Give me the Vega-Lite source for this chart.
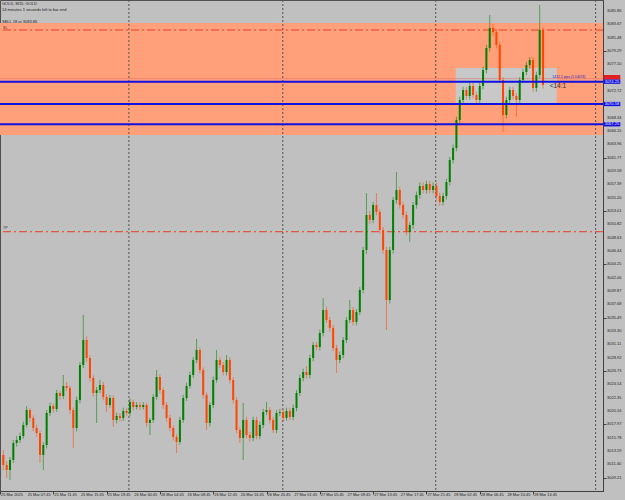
{
"$schema":"https://vega.github.io/schema/vega-lite/v6.json",
"width":603,"height":491,
"autosize":{"type":"none"},
"padding":{"left":0,"top":0,"right":22,"bottom":9},
"background":"#C0C0C0",
"config":{"view":{"stroke":"#505050","fill":"#C0C0C0"},"font":"Liberation Sans"},
"datasets":{
"xlabels":[
{"i":0.3,"t":"25 Mar 2025"},{"i":8.3,"t":"25 Mar 07:45"},{"i":16.3,"t":"25 Mar 11:45"},{"i":24.3,"t":"25 Mar 15:45"},{"i":32.3,"t":"25 Mar 19:45"},{"i":40.3,"t":"26 Mar 00:45"},{"i":48.3,"t":"26 Mar 04:45"},{"i":56.3,"t":"26 Mar 08:45"},{"i":64.3,"t":"26 Mar 12:45"},{"i":72.3,"t":"26 Mar 16:45"},{"i":80.3,"t":"26 Mar 20:45"},{"i":88.3,"t":"27 Mar 01:45"},{"i":96.3,"t":"27 Mar 05:45"},{"i":104.3,"t":"27 Mar 09:45"},{"i":112.3,"t":"27 Mar 13:45"},{"i":120.3,"t":"27 Mar 17:45"},{"i":128.3,"t":"27 Mar 21:45"},{"i":136.3,"t":"28 Mar 02:45"},{"i":144.3,"t":"28 Mar 06:45"},{"i":152.3,"t":"28 Mar 10:45"},{"i":160.3,"t":"28 Mar 14:45"}
],
"ylabels":[
{"p":3009.21},{"p":3011.40},{"p":3013.59},{"p":3015.78},{"p":3017.97},{"p":3020.16},{"p":3022.35},{"p":3024.54},{"p":3026.73},{"p":3028.92},{"p":3031.11},{"p":3033.30},{"p":3035.49},{"p":3037.68},{"p":3039.87},{"p":3042.06},{"p":3044.25},{"p":3046.44},{"p":3048.63},{"p":3050.82},{"p":3053.01},{"p":3055.20},{"p":3057.39},{"p":3059.58},{"p":3061.77},{"p":3063.96},{"p":3066.15},{"p":3068.34},{"p":3072.72},{"p":3077.10},{"p":3079.29},{"p":3081.48},{"p":3083.67},{"p":3085.86}
],
"candles":[
{"i":1,"o":3012.92,"h":3013.74,"l":3010.45,"c":3011.28},
{"i":2,"o":3011.28,"h":3011.9,"l":3009.14,"c":3010.45},
{"i":3,"o":3010.45,"h":3012.6,"l":3008.81,"c":3012.10},
{"i":4,"o":3012.10,"h":3015.4,"l":3011.6,"c":3014.89},
{"i":5,"o":3014.89,"h":3016.0,"l":3014.3,"c":3015.38},
{"i":6,"o":3015.38,"h":3016.6,"l":3014.9,"c":3016.04},
{"i":7,"o":3016.04,"h":3018.4,"l":3015.6,"c":3017.85},
{"i":8,"o":3017.85,"h":3020.97,"l":3017.5,"c":3020.31},
{"i":9,"o":3020.31,"h":3020.6,"l":3018.4,"c":3019.00},
{"i":10,"o":3019.00,"h":3019.4,"l":3016.8,"c":3017.35},
{"i":11,"o":3017.35,"h":3017.9,"l":3015.9,"c":3016.53},
{"i":12,"o":3016.53,"h":3016.9,"l":3011.60,"c":3012.92},
{"i":13,"o":3012.92,"h":3015.0,"l":3010.45,"c":3014.56},
{"i":14,"o":3014.56,"h":3020.3,"l":3014.0,"c":3019.82},
{"i":15,"o":3019.82,"h":3021.5,"l":3019.3,"c":3020.97},
{"i":16,"o":3020.97,"h":3021.4,"l":3019.9,"c":3020.47},
{"i":17,"o":3020.47,"h":3023.6,"l":3020.0,"c":3023.10},
{"i":18,"o":3023.10,"h":3023.5,"l":3022.0,"c":3022.61},
{"i":19,"o":3022.61,"h":3026.06,"l":3022.1,"c":3024.25},
{"i":20,"o":3024.25,"h":3024.9,"l":3023.4,"c":3023.92},
{"i":21,"o":3023.92,"h":3024.3,"l":3019.7,"c":3020.31},
{"i":22,"o":3020.31,"h":3020.7,"l":3014.07,"c":3017.35},
{"i":23,"o":3017.35,"h":3022.5,"l":3016.8,"c":3021.95},
{"i":24,"o":3021.95,"h":3028.2,"l":3021.4,"c":3027.70},
{"i":25,"o":3027.70,"h":3035.92,"l":3027.2,"c":3031.81},
{"i":26,"o":3031.81,"h":3032.4,"l":3028.2,"c":3028.85},
{"i":27,"o":3028.85,"h":3029.3,"l":3025.0,"c":3025.57},
{"i":28,"o":3025.57,"h":3026.0,"l":3022.5,"c":3023.10},
{"i":29,"o":3023.10,"h":3024.1,"l":3018.18,"c":3023.60},
{"i":30,"o":3023.60,"h":3025.24,"l":3023.1,"c":3024.42},
{"i":31,"o":3024.42,"h":3024.9,"l":3021.9,"c":3022.45},
{"i":32,"o":3022.45,"h":3022.9,"l":3020.0,"c":3021.13},
{"i":33,"o":3021.13,"h":3022.8,"l":3020.7,"c":3022.28},
{"i":34,"o":3022.28,"h":3022.7,"l":3017.52,"c":3018.67},
{"i":35,"o":3018.67,"h":3019.9,"l":3018.1,"c":3019.33},
{"i":36,"o":3019.33,"h":3019.8,"l":3018.4,"c":3019.00},
{"i":37,"o":3019.00,"h":3020.7,"l":3018.5,"c":3020.15},
{"i":38,"o":3020.15,"h":3020.6,"l":3019.3,"c":3019.82},
{"i":39,"o":3019.82,"h":3022.2,"l":3019.3,"c":3021.63},
{"i":40,"o":3021.63,"h":3022.0,"l":3020.2,"c":3020.80},
{"i":41,"o":3020.80,"h":3021.6,"l":3020.4,"c":3021.13},
{"i":42,"o":3021.13,"h":3021.6,"l":3020.3,"c":3020.80},
{"i":43,"o":3020.80,"h":3021.6,"l":3020.4,"c":3021.13},
{"i":44,"o":3021.13,"h":3021.5,"l":3017.6,"c":3018.18},
{"i":45,"o":3018.18,"h":3019.0,"l":3016.20,"c":3018.67},
{"i":46,"o":3018.67,"h":3022.9,"l":3018.2,"c":3022.45},
{"i":47,"o":3022.45,"h":3026.88,"l":3022.0,"c":3025.73},
{"i":48,"o":3025.73,"h":3026.2,"l":3023.0,"c":3023.60},
{"i":49,"o":3023.60,"h":3024.0,"l":3020.5,"c":3021.13},
{"i":50,"o":3021.13,"h":3021.6,"l":3018.4,"c":3019.00},
{"i":51,"o":3019.00,"h":3019.5,"l":3016.8,"c":3017.35},
{"i":52,"o":3017.35,"h":3017.8,"l":3015.3,"c":3015.88},
{"i":53,"o":3015.88,"h":3016.3,"l":3013.25,"c":3015.05},
{"i":54,"o":3015.05,"h":3019.2,"l":3014.6,"c":3018.67},
{"i":55,"o":3018.67,"h":3022.8,"l":3018.2,"c":3022.28},
{"i":56,"o":3022.28,"h":3024.8,"l":3021.8,"c":3024.25},
{"i":57,"o":3024.25,"h":3026.6,"l":3023.8,"c":3026.06},
{"i":58,"o":3026.06,"h":3029.0,"l":3025.6,"c":3028.53},
{"i":59,"o":3028.53,"h":3031.98,"l":3028.0,"c":3030.17},
{"i":60,"o":3030.17,"h":3030.6,"l":3026.3,"c":3026.88},
{"i":61,"o":3026.88,"h":3027.3,"l":3022.2,"c":3022.77},
{"i":62,"o":3022.77,"h":3023.2,"l":3017.03,"c":3018.18},
{"i":63,"o":3018.18,"h":3021.6,"l":3017.6,"c":3021.13},
{"i":64,"o":3021.13,"h":3025.8,"l":3020.6,"c":3025.24},
{"i":65,"o":3025.24,"h":3030.17,"l":3024.8,"c":3028.53},
{"i":66,"o":3028.53,"h":3029.0,"l":3027.2,"c":3027.70},
{"i":67,"o":3027.70,"h":3028.2,"l":3026.0,"c":3026.55},
{"i":68,"o":3026.55,"h":3029.35,"l":3026.0,"c":3028.53},
{"i":69,"o":3028.53,"h":3029.0,"l":3024.7,"c":3025.24},
{"i":70,"o":3025.24,"h":3025.7,"l":3021.4,"c":3021.95},
{"i":71,"o":3021.95,"h":3022.4,"l":3016.5,"c":3017.03},
{"i":72,"o":3017.03,"h":3017.5,"l":3014.89,"c":3015.71},
{"i":73,"o":3015.71,"h":3021.46,"l":3012.10,"c":3018.67},
{"i":74,"o":3018.67,"h":3019.2,"l":3015.6,"c":3016.20},
{"i":75,"o":3016.20,"h":3016.7,"l":3015.1,"c":3015.71},
{"i":76,"o":3015.71,"h":3019.2,"l":3015.2,"c":3018.67},
{"i":77,"o":3018.67,"h":3019.2,"l":3015.5,"c":3016.04},
{"i":78,"o":3016.04,"h":3018.4,"l":3015.5,"c":3017.85},
{"i":79,"o":3017.85,"h":3020.5,"l":3017.3,"c":3019.98},
{"i":80,"o":3019.98,"h":3021.63,"l":3019.5,"c":3020.31},
{"i":81,"o":3020.31,"h":3020.8,"l":3018.1,"c":3018.67},
{"i":82,"o":3018.67,"h":3019.2,"l":3016.5,"c":3017.03},
{"i":83,"o":3017.03,"h":3020.3,"l":3016.5,"c":3019.82},
{"i":84,"o":3019.82,"h":3020.5,"l":3019.3,"c":3019.98},
{"i":85,"o":3019.98,"h":3020.5,"l":3018.4,"c":3019.00},
{"i":86,"o":3019.00,"h":3020.7,"l":3018.5,"c":3020.15},
{"i":87,"o":3020.15,"h":3020.7,"l":3018.6,"c":3019.16},
{"i":88,"o":3019.16,"h":3021.2,"l":3018.6,"c":3020.64},
{"i":89,"o":3020.64,"h":3023.6,"l":3020.1,"c":3023.10},
{"i":90,"o":3023.10,"h":3026.1,"l":3022.6,"c":3025.57},
{"i":91,"o":3025.57,"h":3027.1,"l":3025.0,"c":3026.55},
{"i":92,"o":3026.55,"h":3027.5,"l":3025.5,"c":3026.06},
{"i":93,"o":3026.06,"h":3029.4,"l":3025.5,"c":3028.85},
{"i":94,"o":3028.85,"h":3031.5,"l":3028.3,"c":3030.99},
{"i":95,"o":3030.99,"h":3031.5,"l":3030.1,"c":3030.66},
{"i":96,"o":3030.66,"h":3033.5,"l":3030.1,"c":3032.96},
{"i":97,"o":3032.96,"h":3038.71,"l":3032.4,"c":3036.74},
{"i":98,"o":3036.74,"h":3037.3,"l":3034.6,"c":3035.10},
{"i":99,"o":3035.10,"h":3035.6,"l":3033.2,"c":3033.78},
{"i":100,"o":3033.78,"h":3034.3,"l":3030.0,"c":3030.50},
{"i":101,"o":3030.50,"h":3031.0,"l":3026.39,"c":3028.53},
{"i":102,"o":3028.53,"h":3029.9,"l":3028.0,"c":3029.35},
{"i":103,"o":3029.35,"h":3032.3,"l":3028.8,"c":3031.81},
{"i":104,"o":3031.81,"h":3035.6,"l":3031.3,"c":3035.10},
{"i":105,"o":3035.10,"h":3038.38,"l":3034.6,"c":3036.74},
{"i":106,"o":3036.74,"h":3037.2,"l":3034.2,"c":3034.77},
{"i":107,"o":3034.77,"h":3036.9,"l":3034.2,"c":3036.41},
{"i":108,"o":3036.41,"h":3040.5,"l":3035.9,"c":3040.03},
{"i":109,"o":3040.03,"h":3047.1,"l":3039.5,"c":3046.60},
{"i":110,"o":3046.60,"h":3055.96,"l":3046.0,"c":3052.35},
{"i":111,"o":3052.35,"h":3053.0,"l":3050.9,"c":3051.53},
{"i":112,"o":3051.53,"h":3054.5,"l":3051.0,"c":3053.99},
{"i":113,"o":3053.99,"h":3055.96,"l":3052.3,"c":3052.84},
{"i":114,"o":3052.84,"h":3053.3,"l":3049.3,"c":3049.88},
{"i":115,"o":3049.88,"h":3050.4,"l":3046.0,"c":3046.60},
{"i":116,"o":3046.60,"h":3047.1,"l":3033.45,"c":3038.38},
{"i":117,"o":3038.38,"h":3047.1,"l":3037.8,"c":3046.60},
{"i":118,"o":3046.60,"h":3055.3,"l":3046.0,"c":3054.81},
{"i":119,"o":3054.81,"h":3059.41,"l":3054.2,"c":3056.45},
{"i":120,"o":3056.45,"h":3057.0,"l":3053.4,"c":3053.99},
{"i":121,"o":3053.99,"h":3054.5,"l":3051.8,"c":3052.35},
{"i":122,"o":3052.35,"h":3052.9,"l":3049.0,"c":3049.55},
{"i":123,"o":3049.55,"h":3051.2,"l":3047.91,"c":3050.70},
{"i":124,"o":3050.70,"h":3054.5,"l":3050.1,"c":3053.99},
{"i":125,"o":3053.99,"h":3056.2,"l":3053.4,"c":3055.63},
{"i":126,"o":3055.63,"h":3057.7,"l":3055.0,"c":3057.11},
{"i":127,"o":3057.11,"h":3057.7,"l":3055.9,"c":3056.45},
{"i":128,"o":3056.45,"h":3058.0,"l":3055.9,"c":3057.44},
{"i":129,"o":3057.44,"h":3058.0,"l":3055.9,"c":3056.45},
{"i":130,"o":3056.45,"h":3057.7,"l":3055.9,"c":3057.11},
{"i":131,"o":3057.11,"h":3057.7,"l":3054.9,"c":3055.47},
{"i":132,"o":3055.47,"h":3056.0,"l":3053.9,"c":3054.48},
{"i":133,"o":3054.48,"h":3056.0,"l":3053.9,"c":3055.47},
{"i":134,"o":3055.47,"h":3058.3,"l":3054.9,"c":3057.77},
{"i":135,"o":3057.77,"h":3061.9,"l":3057.2,"c":3061.38},
{"i":136,"o":3061.38,"h":3063.9,"l":3060.8,"c":3063.36},
{"i":137,"o":3063.36,"h":3068.5,"l":3062.8,"c":3067.96},
{"i":138,"o":3067.96,"h":3071.8,"l":3067.4,"c":3071.24},
{"i":139,"o":3071.24,"h":3073.4,"l":3070.7,"c":3072.88},
{"i":140,"o":3072.88,"h":3073.4,"l":3071.3,"c":3071.90},
{"i":141,"o":3071.90,"h":3074.1,"l":3071.3,"c":3073.54},
{"i":142,"o":3073.54,"h":3074.1,"l":3071.5,"c":3072.06},
{"i":143,"o":3072.06,"h":3072.6,"l":3070.7,"c":3071.24},
{"i":144,"o":3071.24,"h":3074.1,"l":3070.7,"c":3073.54},
{"i":145,"o":3073.54,"h":3076.7,"l":3073.0,"c":3076.17},
{"i":146,"o":3076.17,"h":3080.3,"l":3075.6,"c":3079.78},
{"i":147,"o":3079.78,"h":3085.21,"l":3079.2,"c":3083.07},
{"i":148,"o":3083.07,"h":3083.8,"l":3081.8,"c":3082.41},
{"i":149,"o":3082.41,"h":3082.9,"l":3079.7,"c":3080.28},
{"i":150,"o":3080.28,"h":3080.8,"l":3074.0,"c":3074.53},
{"i":151,"o":3074.53,"h":3075.0,"l":3065.98,"c":3068.78},
{"i":152,"o":3068.78,"h":3071.8,"l":3068.2,"c":3071.24},
{"i":153,"o":3071.24,"h":3073.4,"l":3070.7,"c":3072.88},
{"i":154,"o":3072.88,"h":3073.4,"l":3071.3,"c":3071.90},
{"i":155,"o":3071.90,"h":3072.4,"l":3068.5,"c":3071.24},
{"i":156,"o":3071.24,"h":3075.0,"l":3070.7,"c":3074.53},
{"i":157,"o":3074.53,"h":3076.4,"l":3074.0,"c":3075.84},
{"i":158,"o":3075.84,"h":3077.5,"l":3075.3,"c":3076.99},
{"i":159,"o":3076.99,"h":3078.3,"l":3076.4,"c":3077.81},
{"i":160,"o":3077.81,"h":3078.3,"l":3072.6,"c":3073.21},
{"i":161,"o":3073.21,"h":3075.9,"l":3072.6,"c":3075.35},
{"i":162,"o":3075.35,"h":3086.85,"l":3074.8,"c":3082.74},
{"i":163,"o":3082.74,"h":3083.2,"l":3073.1,"c":3073.71}
]
},
"layer":[
{"data":{"values":[{"x0":0,"x1":181,"y0":3065.49,"y1":3083.89}]},
 "mark":{"type":"rect","color":"#FFA07A"},
 "encoding":{
  "x":{"field":"x0","type":"quantitative","scale":{"domain":[0,181],"nice":false,"zero":false,"padding":0},
   "axis":{"title":null,"grid":false,"values":[0,8,16,24,32,40,48,56,64,72,80,88,96,104,112,120,128,136,144,152,160],"labels":false,
    "tickSize":3,"tickColor":"#404040","domainColor":"#404040"}},
  "x2":{"field":"x1"},
  "y":{"field":"y0","type":"quantitative","scale":{"domain":[3007,3087.67],"nice":false,"zero":false,"padding":0},
   "axis":{"title":null,"orient":"right","grid":false,"labels":false,"values":[3009.21,3011.40,3013.59,3015.78,3017.97,3020.16,3022.35,3024.54,3026.73,3028.92,3031.11,3033.30,3035.49,3037.68,3039.87,3042.06,3044.25,3046.44,3048.63,3050.82,3053.01,3055.20,3057.39,3059.58,3061.77,3063.96,3066.15,3068.34,3070.53,3072.72,3074.91,3077.10,3079.29,3081.48,3083.67,3085.86],
    "tickSize":3,"tickColor":"#404040","domainColor":"#404040"}},
  "y2":{"field":"y1"}
 }},
{"data":{"values":[{"x0":136.8,"x1":167.1,"y0":3070.75,"y1":3076.5}]},
 "mark":{"type":"rect","color":"#C8C8C8"},
 "encoding":{"x":{"field":"x0","type":"quantitative","title":null},"x2":{"field":"x1"},
  "y":{"field":"y0","type":"quantitative","title":null},"y2":{"field":"y1"}}},
{"data":{"values":[{"v":38.7},{"v":84.9},{"v":130.8},{"v":178.8}]},
 "mark":{"type":"rule","color":"#505050","strokeDash":[2,2],"strokeWidth":1},
 "encoding":{"x":{"field":"v","type":"quantitative","title":null}}},
{"data":{"values":[{"p":3082.74},{"p":3049.6}]},
 "mark":{"type":"rule","color":"#E8402A","strokeDash":[8,3,2,3],"strokeWidth":1},
 "encoding":{"y":{"field":"p","type":"quantitative","title":null}}},
{"data":{"values":[{"p":3074.75}]},
 "mark":{"type":"rule","color":"#E06A6A","strokeWidth":0.7,"opacity":0.7},
 "encoding":{"y":{"field":"p","type":"quantitative","title":null}}},
{"data":{"name":"candles"},
 "mark":{"type":"rule","strokeWidth":1,"opacity":0.55},
 "encoding":{"x":{"field":"i","type":"quantitative","title":null},
  "y":{"field":"l","type":"quantitative","title":null},"y2":{"field":"h"},
  "color":{"condition":{"test":"datum.c >= datum.o","value":"#008000"},"value":"#FF4500"}}},
{"data":{"name":"candles"},
 "mark":{"type":"bar","size":2,"orient":"vertical"},
 "encoding":{"x":{"field":"i","type":"quantitative","title":null},
  "y":{"field":"o","type":"quantitative","title":null},"y2":{"field":"c"},
  "color":{"condition":{"test":"datum.c >= datum.o","value":"#008000"},"value":"#FF4500"}}},
{"data":{"values":[{"p":3074.25},{"p":3070.58},{"p":3067.25}]},
 "mark":{"type":"rule","color":"#1010E0","strokeWidth":2},
 "encoding":{"y":{"field":"p","type":"quantitative","title":null}}},
{"data":{"name":"xlabels"},
 "mark":{"type":"text","align":"left","baseline":"top","fontSize":3.9,"color":"#222222","dy":2},
 "encoding":{"x":{"field":"i","type":"quantitative","title":null},
  "y":{"datum":3007,"type":"quantitative"},"text":{"field":"t"}}},
{"data":{"name":"ylabels"},
 "mark":{"type":"text","align":"left","baseline":"middle","fontSize":4,"color":"#222222","dx":4},
 "encoding":{"x":{"datum":181,"type":"quantitative"},
  "y":{"field":"p","type":"quantitative","title":null},"text":{"field":"p","format":".2f"}}},
{"data":{"values":[{"x0":181.2,"x1":186.2,"y0":3074.6,"y1":3075.35,"f":"#E02020"},{"x0":181.2,"x1":186.2,"y0":3073.9,"y1":3074.6,"f":"#1010E0"},{"x0":181.2,"x1":186.2,"y0":3070.23,"y1":3070.93,"f":"#1010E0"},{"x0":181.2,"x1":186.2,"y0":3066.9,"y1":3067.6,"f":"#1010E0"}]},
 "mark":{"type":"rect"},
 "encoding":{"x":{"field":"x0","type":"quantitative","title":null},"x2":{"field":"x1"},
  "y":{"field":"y0","type":"quantitative","title":null},"y2":{"field":"y1"},
  "fill":{"field":"f","type":"nominal","scale":null}}},
{"data":{"values":[{"x":181.5,"p":3074.25,"t":"3074.25"},{"x":181.5,"p":3070.58,"t":"3070.58"},{"x":181.5,"p":3067.25,"t":"3067.25"}]},
 "mark":{"type":"text","align":"left","baseline":"middle","fontSize":4,"color":"#E8E8FF"},
 "encoding":{"x":{"field":"x","type":"quantitative","title":null},
  "y":{"field":"p","type":"quantitative","title":null},"text":{"field":"t"}}},
{"data":{"values":[
  {"x":0.6,"p":3087.0,"t":"GOLD, M15: GOLD","s":4,"col":"#202020"},
  {"x":0.6,"p":3085.95,"t":"14 minutes 1 seconds left to bar end","s":4,"col":"#202020"},
  {"x":0.6,"p":3084.05,"t":"SELL 18 at 3083.86","s":4,"col":"#202020"},
  {"x":0.9,"p":3083.0,"t":"SL","s":3.6,"col":"#303030"},
  {"x":0.9,"p":3050.25,"t":"TP","s":3.6,"col":"#303030"},
  {"x":165.0,"p":3073.55,"t":"<14:1","s":6.5,"col":"#303030"},
  {"x":165.8,"p":3075.1,"t":"1412.2 pips (1:14073)","s":3.4,"col":"#2020C0"}
 ]},
 "mark":{"type":"text","align":"left","baseline":"middle"},
 "encoding":{"x":{"field":"x","type":"quantitative","title":null},
  "y":{"field":"p","type":"quantitative","title":null},
  "text":{"field":"t"},"size":{"field":"s","type":"quantitative","scale":null},"color":{"field":"col","type":"nominal","scale":null}}}
]
}
